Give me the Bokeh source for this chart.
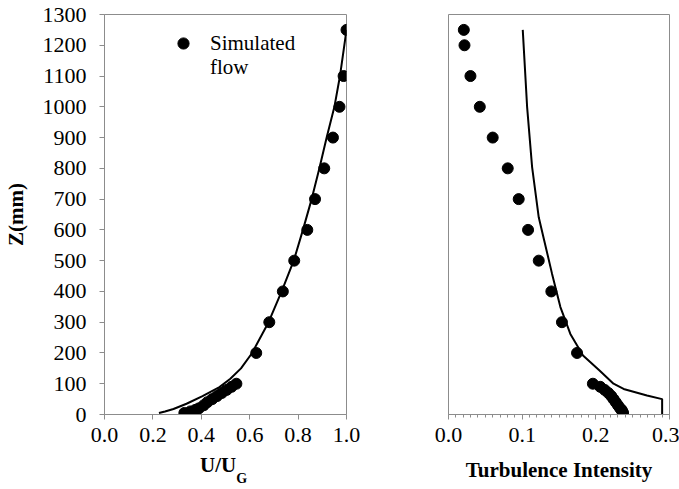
from bokeh.plotting import figure
from bokeh.layouts import row, column
from bokeh.models import (Range1d, SingleIntervalTicker, FixedTicker,
                          PrintfTickFormatter, Legend, LegendItem, Label, Div)
from bokeh.embed import file_html
from bokeh.resources import INLINE

# ---- mean velocity profile ----
z_u_target = [5, 10, 18, 35, 60, 89, 116, 150, 200, 300, 400, 500, 600, 700,
              800, 900, 1000, 1100, 1250]
u_target = [0.225, 0.25, 0.285, 0.339, 0.405, 0.475, 0.52, 0.564, 0.61, 0.678,
            0.732, 0.782, 0.82, 0.856, 0.888, 0.918, 0.95, 0.973, 1.0]

z_u_sim = [5, 10, 15, 20, 30, 40, 50, 60, 70, 80, 90, 100, 200, 300, 400, 500,
           600, 700, 800, 900, 1000, 1100, 1250]
u_sim = [0.33, 0.355, 0.375, 0.39, 0.41, 0.425, 0.445, 0.465, 0.485, 0.505,
         0.525, 0.545, 0.627, 0.681, 0.737, 0.784, 0.838, 0.870, 0.908, 0.944,
         0.971, 0.988, 1.0]

# ---- turbulence intensity profile ----
z_ti_target = [0, 50, 62, 83, 100, 143, 192, 262, 349, 457, 565, 641, 804,
               1000, 1250]
ti_target = [0.29, 0.29, 0.2694, 0.2377, 0.224, 0.205, 0.1826, 0.1654, 0.1519,
             0.1406, 0.130, 0.1225, 0.1135, 0.1067, 0.1008]

z_ti_sim = [5, 10, 15, 20, 30, 40, 50, 60, 70, 80, 90, 100, 200, 300, 400, 500,
            600, 700, 800, 900, 1000, 1100, 1200, 1250]
ti_sim = [0.237, 0.236, 0.235, 0.233, 0.23, 0.227, 0.224, 0.221, 0.217, 0.212,
          0.206, 0.196, 0.1745, 0.154, 0.1396, 0.1225, 0.108, 0.0953, 0.0804,
          0.060, 0.0425, 0.0298, 0.0217, 0.0208]

# axis ticks of the turbulence panel
ti_major_ticks = [0.0, 0.1, 0.2, 0.3]
ti_minor_ticks = [round(0.01 * i, 2) for i in range(31)]

FONT = "Liberation Serif"
GREY = "#8c8c8c"


def style(p):
    p.xgrid.visible = False
    p.ygrid.visible = False
    p.outline_line_color = GREY
    p.outline_line_width = 1
    p.background_fill_color = "white"
    p.border_fill_color = "white"
    for ax in p.xaxis + p.yaxis:
        ax.axis_line_color = GREY
        ax.major_tick_line_color = GREY
        ax.minor_tick_line_color = GREY
        ax.major_tick_in = 0
        ax.major_tick_out = 5
        ax.minor_tick_in = 0
        ax.minor_tick_out = 3
        ax.major_label_text_font = FONT
        ax.major_label_text_font_size = "22px"
        ax.major_label_text_color = "black"
        ax.major_label_standoff = 8
        ax.axis_label_text_font = FONT
        ax.axis_label_text_font_size = "21px"
        ax.axis_label_text_font_style = "bold"
        ax.axis_label_text_color = "black"


# ---- left panel: U/UG ----
p1 = figure(width=400, height=455, output_backend="svg", toolbar_location=None,
            x_range=Range1d(0, 1.0), y_range=Range1d(0, 1300),
            min_border_left=100, min_border_right=54, min_border_top=14,
            min_border_bottom=41)
style(p1)
p1.xaxis.ticker = SingleIntervalTicker(interval=0.2, num_minor_ticks=0)
p1.xaxis.formatter = PrintfTickFormatter(format="%.1f")
p1.yaxis.ticker = SingleIntervalTicker(interval=100, num_minor_ticks=0)
p1.yaxis.major_label_standoff = 13
p1.yaxis.axis_label = "Z(mm)"
p1.yaxis.axis_label_standoff = 12

p1.line(u_target, z_u_target, line_color="black", line_width=2)
dots1 = p1.scatter(u_sim, z_u_sim, size=11, fill_color="black",
                   line_color="black")

legend = Legend(items=[LegendItem(label="Simulated", renderers=[dots1])],
                location=(65, 357), padding=0, margin=0, glyph_width=28,
                glyph_height=28, label_standoff=13, border_line_alpha=0,
                background_fill_alpha=0, label_text_font=FONT,
                label_text_font_size="21px", label_text_color="black")
p1.add_layout(legend)
p1.add_layout(Label(x=0.436, y=1131, text="flow", text_font=FONT,
                    text_font_size="21px", text_color="black",
                    text_align="left", text_baseline="alphabetic"))

# x-axis title with subscript G
xtitle = Div(
    text=('<div style="margin-left:200px; font-family:\'Liberation Serif\';'
          ' font-weight:bold; font-size:21px; line-height:21px; color:black;'
          ' white-space:nowrap;">U/U<span style="font-size:14px;'
          ' vertical-align:-11px;">G</span></div>'),
    width=400, height=34, margin=0, styles={"overflow": "visible"})

# ---- right panel: turbulence intensity ----
p2 = figure(width=279, height=489, output_backend="svg", toolbar_location=None,
            x_range=Range1d(0, 0.3), y_range=Range1d(0, 1300),
            min_border_left=48, min_border_right=10, min_border_top=14,
            min_border_bottom=75)
style(p2)
p2.yaxis.visible = False
p2.xaxis.ticker = FixedTicker(ticks=ti_major_ticks, minor_ticks=ti_minor_ticks)
p2.xaxis.formatter = PrintfTickFormatter(format="%.1f")
p2.xaxis.axis_label = "Turbulence Intensity"
p2.xaxis.axis_label_standoff = 13

p2.line(ti_target, z_ti_target, line_color="black", line_width=2)
p2.scatter(ti_sim, z_ti_sim, size=11, fill_color="black", line_color="black")

layout = row(column(p1, xtitle, spacing=0), p2, spacing=0)
open("out.html", "w").write(file_html(layout, INLINE))
